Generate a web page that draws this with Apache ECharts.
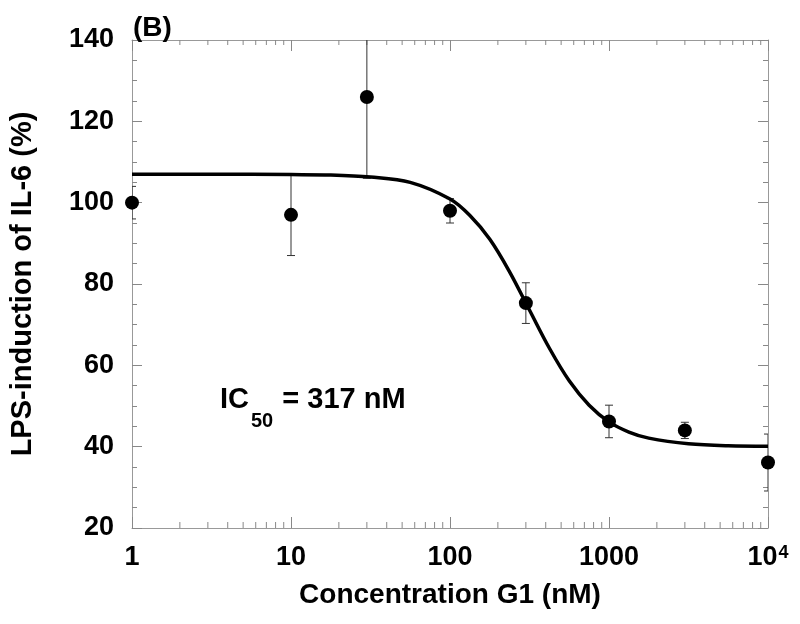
<!DOCTYPE html>
<html>
<head>
<meta charset="utf-8">
<script src="https://cdn.jsdelivr.net/npm/echarts/dist/echarts.min.js"></script>
<style>
html,body{margin:0;padding:0;background:#fff;}
#c{width:800px;height:624px;}
</style>
</head>
<body>
<div id="c"></div>
<script>
// Measured points (concentration nM, response %, error)
var concentrations = [1, 10, 30, 100, 300, 1000, 3000, 10000];
var responses = [100, 97, 126, 98, 75.3, 46.2, 44, 36.1];
var errors = [4, 10, 20, 3, 5, 4, 2, 7];

// Fitted curve
var curveX = [1, 3.16, 10, 17.8, 31.6, 56.2, 100, 133, 178, 237, 316, 422, 562, 750, 1000, 1334, 1778, 3162, 5623, 10000];
var curveY = [107, 107, 106.9, 106.8, 106.3, 105, 100.9, 96.9, 91, 83, 73.6, 64.2, 56.2, 50.2, 46.1, 43.6, 42.1, 40.7, 40.2, 40.1];

// Axis ticks
var yTicks = [20, 40, 60, 80, 100, 120, 140];
var xMinorTicks = [2,3,4,5,6,7,8,9,20,30,40,50,60,70,80,90,200,300,400,500,600,700,800,900,2000,3000,4000,5000,6000,7000,8000,9000];

var FONT = "'Liberation Sans', Arial, Helvetica, sans-serif";
var AXIS_COLOR = '#999';
var TICK_COLOR = '#888';

var chart = echarts.init(document.getElementById('c'), null, {renderer: 'canvas'});

var scatterData = concentrations.map(function (x, i) { return [x, responses[i]]; });
var errData = concentrations.map(function (x, i) { return [x, responses[i] - errors[i], responses[i] + errors[i]]; });
var curveData = curveX.map(function (x, i) { return [x, curveY[i]]; });
var minorData = xMinorTicks.map(function (v) { return [v, yTicks[0]]; });

var yMin = yTicks[0], yMax = yTicks[yTicks.length - 1];

var option = {
  animation: false,
  backgroundColor: '#fff',
  title: [
    {
      text: '(B)', left: 128, top: 9,
      textStyle: {fontFamily: FONT, fontWeight: 'bold', fontSize: 28, color: '#000'}
    },
    {
      text: '{m|IC}{s|50}{m| = 317 nM}', left: 215, top: 380,
      textStyle: {
        fontFamily: FONT, fontWeight: 'bold', fontSize: 29, color: '#000',
        rich: {
          m: {fontFamily: FONT, fontWeight: 'bold', fontSize: 29, lineHeight: 32, verticalAlign: 'top', color: '#000'},
          s: {fontFamily: FONT, fontWeight: 'bold', fontSize: 20, lineHeight: 20, padding: [26, 1, 0, 2], verticalAlign: 'top', color: '#000'}
        }
      }
    }
  ],
  grid: {left: 129, right: 32, top: 40, bottom: 96, containLabel: false},
  xAxis: [
    {
      type: 'log', logBase: 10, min: 1, max: 10000, position: 'bottom',
      name: 'Concentration G1 (nM)', nameLocation: 'middle', nameGap: 53,
      nameTextStyle: {fontFamily: FONT, fontWeight: 'bold', fontSize: 28, color: '#000'},
      axisLine: {show: true, lineStyle: {color: AXIS_COLOR, width: 1}},
      axisTick: {show: true, inside: true, length: 11, lineStyle: {color: TICK_COLOR}},
      splitLine: {show: false},
      axisLabel: {
        margin: 16, color: '#000', fontFamily: FONT, fontWeight: 'bold', fontSize: 27,
        formatter: function (v) {
          var r = Math.round(v);
          if (r === 10000) return '{a|10}{sup|4}';
          return '{a|' + r + '}';
        },
        rich: {
          a: {fontFamily: FONT, fontWeight: 'bold', fontSize: 27, lineHeight: 32, verticalAlign: 'top', color: '#000'},
          sup: {fontFamily: FONT, fontWeight: 'bold', fontSize: 18, lineHeight: 18, verticalAlign: 'top', color: '#000', padding: [0, 0, 0, 1]}
        }
      }
    },
    {
      type: 'log', logBase: 10, min: 1, max: 10000, position: 'top',
      axisLine: {show: true, lineStyle: {color: AXIS_COLOR, width: 1}},
      axisTick: {show: true, inside: true, length: 11, lineStyle: {color: TICK_COLOR}},
      axisLabel: {show: false},
      splitLine: {show: false}
    }
  ],
  yAxis: [
    {
      type: 'value', min: yMin, max: yMax, interval: 20, position: 'left',
      name: 'LPS-induction of IL-6 (%)', nameLocation: 'middle', nameGap: 95,
      nameTextStyle: {fontFamily: FONT, fontWeight: 'bold', fontSize: 29, color: '#000'},
      axisLine: {show: true, lineStyle: {color: AXIS_COLOR, width: 1}},
      axisTick: {show: true, inside: true, length: 10, lineStyle: {color: TICK_COLOR}},
      minorTick: {show: true, splitNumber: 4, length: 5, lineStyle: {color: TICK_COLOR}},
      splitLine: {show: false},
      axisLabel: {margin: 18, color: '#000', fontFamily: FONT, fontWeight: 'bold', fontSize: 27}
    },
    {
      type: 'value', min: yMin, max: yMax, interval: 20, position: 'right',
      axisLine: {show: true, lineStyle: {color: AXIS_COLOR, width: 1}},
      axisTick: {show: true, inside: true, length: 10, lineStyle: {color: TICK_COLOR}},
      minorTick: {show: true, splitNumber: 4, length: 5, lineStyle: {color: TICK_COLOR}},
      splitLine: {show: false},
      axisLabel: {show: false}
    }
  ],
  series: [
    {
      type: 'custom', name: 'minorTicks', xAxisIndex: 0, yAxisIndex: 0, silent: true, clip: false,
      data: minorData, z: 1,
      renderItem: function (params, api) {
        var v = api.value(0);
        var b = api.coord([v, yMin]);
        var t = api.coord([v, yMax]);
        var st = {stroke: TICK_COLOR, lineWidth: 1};
        return {
          type: 'group',
          children: [
            {type: 'line', shape: {x1: b[0], y1: b[1], x2: b[0], y2: b[1] - 6}, style: st},
            {type: 'line', shape: {x1: t[0], y1: t[1], x2: t[0], y2: t[1] + 5}, style: st}
          ]
        };
      }
    },
    {
      type: 'custom', name: 'errors', xAxisIndex: 0, yAxisIndex: 0, silent: true, clip: true,
      data: errData, z: 2,
      renderItem: function (params, api) {
        var x = api.value(0);
        var lo = api.coord([x, api.value(1)]);
        var hi = api.coord([x, api.value(2)]);
        var w = 4;
        var st = {stroke: '#333', lineWidth: 1};
        return {
          type: 'group',
          children: [
            {type: 'line', shape: {x1: lo[0], y1: lo[1], x2: hi[0], y2: hi[1]}, style: st},
            {type: 'line', shape: {x1: lo[0] - w, y1: lo[1], x2: lo[0] + w, y2: lo[1]}, style: st},
            {type: 'line', shape: {x1: hi[0] - w, y1: hi[1], x2: hi[0] + w, y2: hi[1]}, style: st}
          ]
        };
      }
    },
    {
      type: 'line', name: 'fit', xAxisIndex: 0, yAxisIndex: 0, data: curveData,
      smooth: 0.35, showSymbol: false, silent: true, z: 3,
      lineStyle: {color: '#000', width: 3.5}
    },
    {
      type: 'scatter', name: 'data', xAxisIndex: 0, yAxisIndex: 0, data: scatterData,
      symbol: 'circle', symbolSize: 14, silent: true, z: 4, clip: false,
      itemStyle: {color: '#000', opacity: 1}
    }
  ]
};

chart.setOption(option);
</script>
</body>
</html>
